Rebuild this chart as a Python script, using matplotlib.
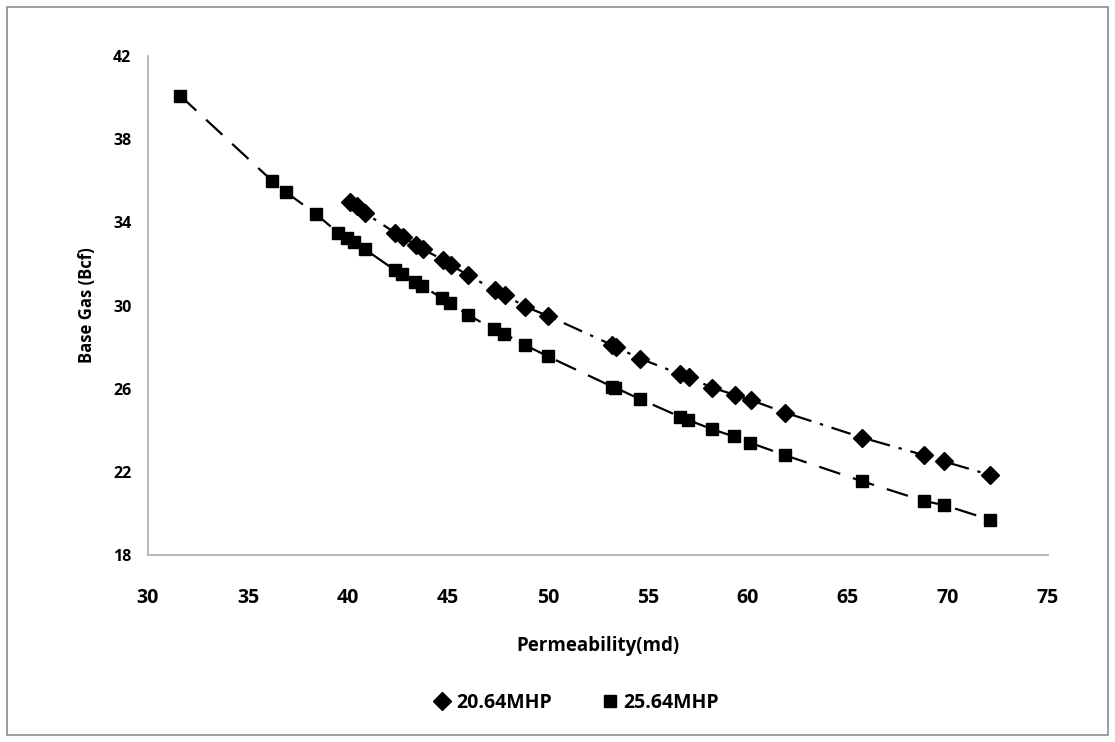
import numpy as np
import matplotlib
matplotlib.use("Agg")
import matplotlib.pyplot as plt
from matplotlib.patches import Rectangle
from matplotlib.lines import Line2D

plt.rcParams['font.family'] = ['Open Sans', 'DejaVu Sans']
plt.rcParams['font.weight'] = 'bold'

# 20.64 MHP series (diamonds)
perm_20 = [40.1, 40.45, 40.85, 42.35, 42.75, 43.4, 43.75, 44.75, 45.15, 46.0,
           47.35, 47.85, 48.85, 50.0, 53.2, 53.4, 54.6, 56.6, 57.05, 58.2,
           59.35, 60.15, 61.85, 65.7, 68.8, 69.8, 72.1]
gas_20 = [35.0, 34.8, 34.45, 33.5, 33.3, 32.9, 32.7, 32.2, 31.95, 31.45,
          30.75, 30.5, 29.95, 29.5, 28.1, 28.0, 27.45, 26.7, 26.55, 26.05,
          25.7, 25.45, 24.85, 23.65, 22.8, 22.5, 21.85]

# 25.64 MHP series (squares)
perm_25 = [31.6, 36.2, 36.9, 38.4, 39.5, 39.95, 40.3, 40.85, 42.35, 42.7,
           43.35, 43.7, 44.7, 45.1, 46.0, 47.3, 47.8, 48.85, 50.0, 53.2,
           53.35, 54.6, 56.6, 57.0, 58.2, 59.3, 60.1, 61.85, 65.7, 68.8,
           69.8, 72.1]
gas_25 = [40.1, 36.0, 35.45, 34.4, 33.5, 33.25, 33.05, 32.7, 31.7, 31.5,
          31.15, 30.95, 30.35, 30.1, 29.55, 28.85, 28.65, 28.1, 27.55, 26.1,
          26.05, 25.5, 24.65, 24.5, 24.05, 23.7, 23.4, 22.8, 21.55, 20.6,
          20.4, 19.7]

x_ticks = [30, 35, 40, 45, 50, 55, 60, 65, 70, 75]
y_ticks = [18, 22, 26, 30, 34, 38, 42]
labels = ['20.64MHP', '25.64MHP']

W, H = 1115, 742
fig = plt.figure(figsize=(W / 100, H / 100), dpi=100)
ax = fig.add_axes([148 / W, 1 - 555 / H, 900 / W, 499 / H])

ax.plot(perm_20, gas_20, color='black', lw=1.6, dashes=(9, 4, 1.5, 4),
        marker='D', ms=9, mfc='black', mec='black')
ax.plot(perm_25, gas_25, color='black', lw=1.6, dashes=(10, 6),
        marker='s', ms=9, mfc='black', mec='black')

ax.set_xlim(30, 75)
ax.set_ylim(18, 42)
ax.set_xticks(x_ticks)
ax.set_yticks(y_ticks)
ax.tick_params(axis='x', length=0, pad=24, labelsize=14)
ax.tick_params(axis='y', length=0, pad=12, labelsize=11.5)

for s in ['top', 'right']:
    ax.spines[s].set_visible(False)
for s in ['left', 'bottom']:
    ax.spines[s].set_color('#b3b3b3')
    ax.spines[s].set_linewidth(1.3)

ax.set_xlabel('Permeability(md)', fontsize=13.5, fontweight='bold', labelpad=20)
ax.set_ylabel('Base Gas (Bcf)', fontsize=12, fontweight='bold', labelpad=12)

handles = [Line2D([], [], ls='none', marker='D', ms=9, color='black'),
           Line2D([], [], ls='none', marker='s', ms=9, color='black')]
fig.legend(handles, labels, loc='center', bbox_to_anchor=(576 / W, 1 - 703 / H),
           ncol=2, frameon=False, fontsize=14, handletextpad=0.2,
           columnspacing=2.5, handlelength=1.0)

fig.patches.append(Rectangle((7 / W, 7 / H), 1101 / W, 728 / H,
                             transform=fig.transFigure, fill=False,
                             edgecolor='#8c8c8c', lw=1.2))

fig.savefig('out.png', dpi=100)
